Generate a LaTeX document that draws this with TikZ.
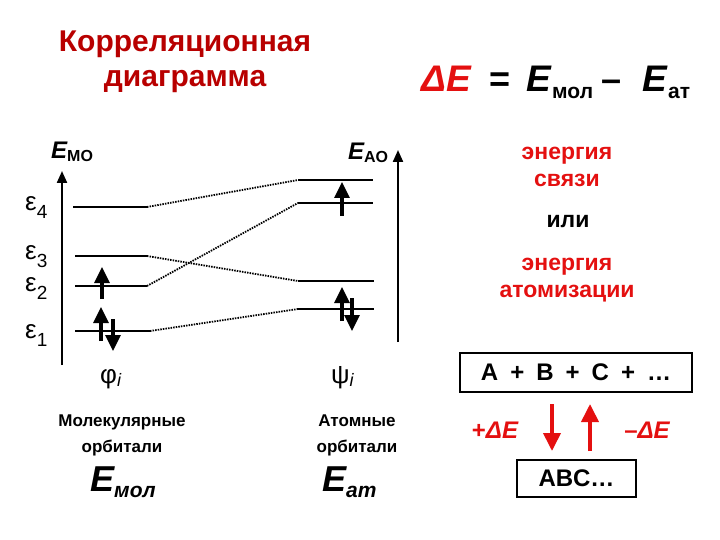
\documentclass[tikz,border=0pt]{standalone}
\usepackage{fontspec}
\setmainfont{Liberation Sans}
\usetikzlibrary{arrows.meta}
\definecolor{titred}{HTML}{B80000}
\definecolor{brred}{HTML}{E41010}
\newcommand{\fs}[1]{\fontsize{#1}{#1}\selectfont}
\begin{document}
\begin{tikzpicture}[x=1pt,y=-1pt,
  lvl/.style={line width=2.6pt},
  corr/.style={line width=1.8pt,dash pattern=on 1.5pt off 1.1pt,black},
  axis/.style={line width=2.2pt,-{Triangle[width=10pt,length=12pt]}},
  elec/.style={line width=3.2pt,-{Triangle[width=15pt,length=16pt]}},
  redarr/.style={line width=3.8pt,brred,-{Triangle[width=17pt,length=18pt]}},
  lab/.style={inner sep=0pt,font=\bfseries},
  box/.style={draw,line width=2.2pt,inner sep=0pt}]
\useasboundingbox (0,0) rectangle (720,540);
% title
\node[lab,titred,anchor=base,font=\fs{30}\bfseries] (title1) at (185,52) {Корреляционная};
\node[lab,titred,anchor=base,font=\fs{30}\bfseries] (title2) at (185,87) {диаграмма};
% formula
\node[lab,brred,anchor=base west,font=\fs{37}\bfseries\itshape] (dE) at (421,92) {ΔE};
\node[lab,anchor=base west,font=\fs{36}\bfseries] (eq) at (489,92) {=};
\node[lab,anchor=base west,font=\fs{37}\bfseries\itshape] (E1) at (526,92) {E};
\node[lab,anchor=base west,font=\fs{21}\bfseries] (s1) at (552,99) {мол};
\node[lab,anchor=base west,font=\fs{36}\bfseries] (mi) at (601,92) {–};
\node[lab,anchor=base west,font=\fs{37}\bfseries\itshape] (E2) at (642,92) {E};
\node[lab,anchor=base west,font=\fs{21}\bfseries] (s2) at (668,99) {ат};
% axis labels
\node[lab,anchor=base west,font=\fs{24}\bfseries\itshape] (EMO) at (51,159) {E\raisebox{-3pt}{\fs{16}\upshape МО}};
\node[lab,anchor=base west,font=\fs{24}\bfseries\itshape] (EAO) at (348,160) {E\raisebox{-3pt}{\fs{16}\upshape АО}};
% axes
\coordinate (la0) at (62,365); \coordinate (la1) at (62,171);
\coordinate (ra0) at (398,342); \coordinate (ra1) at (398,150);
\draw[axis] (la0) -- (la1);
\draw[axis] (ra0) -- (ra1);
% MO levels
\coordinate (m4a) at (73,207); \coordinate (m4b) at (147,207);
\coordinate (m3a) at (75,256); \coordinate (m3b) at (147,256);
\coordinate (m2a) at (75,286); \coordinate (m2b) at (147,286);
\coordinate (m1a) at (75,331); \coordinate (m1b) at (150,331);
% AO levels
\coordinate (a4a) at (298,180); \coordinate (a4b) at (373,180);
\coordinate (a3a) at (298,203); \coordinate (a3b) at (373,203);
\coordinate (a2a) at (298,281); \coordinate (a2b) at (374,281);
\coordinate (a1a) at (298,309); \coordinate (a1b) at (374,309);
\foreach \p in {m4,m3,m2,m1,a4,a3,a2,a1} \draw[lvl] (\p a) -- (\p b);
\draw[corr] (m4b) -- (a4a);
\draw[corr] (m3b) -- (a2a);
\draw[corr] (m2b) -- (a3a);
\draw[corr] (m1b) -- (a1a);
% electrons
\coordinate (e2s) at (102,299); \coordinate (e2t) at (102,267);
\coordinate (e1us) at (101,341); \coordinate (e1ut) at (101,307);
\coordinate (e1ds) at (113,319); \coordinate (e1dt) at (113,351);
\coordinate (f3s) at (342,216); \coordinate (f3t) at (342,182);
\coordinate (f1us) at (342,321); \coordinate (f1ut) at (342,287);
\coordinate (f1ds) at (352,298); \coordinate (f1dt) at (352,331);
\draw[elec] (e2s) -- (e2t);
\draw[elec] (e1us) -- (e1ut);
\draw[elec] (e1ds) -- (e1dt);
\draw[elec] (f3s) -- (f3t);
\draw[elec] (f1us) -- (f1ut);
\draw[elec] (f1ds) -- (f1dt);
% epsilon labels
\tikzset{eps/.style={lab,anchor=base west,font=\fs{26}\mdseries}}
\node[eps] (eps4) at (25,211) {ε\raisebox{-8pt}{\fs{19}4}};
\node[eps] (eps3) at (25,259) {ε\raisebox{-8pt}{\fs{19}3}};
\node[eps] (eps2) at (25,291) {ε\raisebox{-8pt}{\fs{19}2}};
\node[eps] (eps1) at (25,338) {ε\raisebox{-8pt}{\fs{19}1}};
\node[lab,anchor=base west,font=\fs{26}\mdseries] (phi) at (100,383) {φ\raisebox{-3pt}{\fs{18}\itshape i}};
\node[lab,anchor=base west,font=\fs{26}\mdseries] (psi) at (331,383) {ψ\raisebox{-3pt}{\fs{18}\itshape i}};
% bottom labels
\node[lab,anchor=base,font=\fs{17}\bfseries] (mo1) at (122,426) {Молекулярные};
\node[lab,anchor=base,font=\fs{17}\bfseries] (mo2) at (122,452) {орбитали};
\node[lab,anchor=base,font=\fs{17}\bfseries] (ao1) at (357,426) {Атомные};
\node[lab,anchor=base,font=\fs{17}\bfseries] (ao2) at (357,452) {орбитали};
\node[lab,anchor=base west,font=\fs{36}\bfseries\itshape] (Emol) at (90,491) {E\raisebox{-6pt}{\fs{21}мол}};
\node[lab,anchor=base west,font=\fs{36}\bfseries\itshape] (Eat) at (322,491) {E\raisebox{-6pt}{\fs{21}ат}};
% right text
\tikzset{rt/.style={lab,anchor=base,font=\fs{23}\bfseries}}
\node[rt,brred] (bond1) at (567,160) {энергия};
\node[rt,brred] (bond2) at (567,187) {связи};
\node[rt] (or) at (568,227) {или};
\node[rt,brred] (atom1) at (567,270) {энергия};
\node[rt,brred] (atom2) at (567,297) {атомизации};
% reaction boxes
\node[box,minimum width=232pt,minimum height=39pt,font=\fs{24}\bfseries] (abc) at (576,372.5) {A\enspace+\enspace B\enspace+\enspace C\enspace+\enspace …};
\node[box,minimum width=119pt,minimum height=37pt,font=\fs{24}\bfseries] (prod) at (576.5,478.5) {ABC…};
\coordinate (d0) at (552,404); \coordinate (d1) at (552,451);
\coordinate (u0) at (590,451); \coordinate (u1) at (590,404);
\draw[redarr] (d0) -- (d1);
\draw[redarr] (u0) -- (u1);
\node[lab,brred,font=\fs{24}\bfseries\itshape] (pE) at (495,430) {\upshape+\itshape ΔE};
\node[lab,brred,font=\fs{24}\bfseries\itshape] (mE) at (647,430) {\upshape –\itshape ΔE};
\end{tikzpicture}
\end{document}
